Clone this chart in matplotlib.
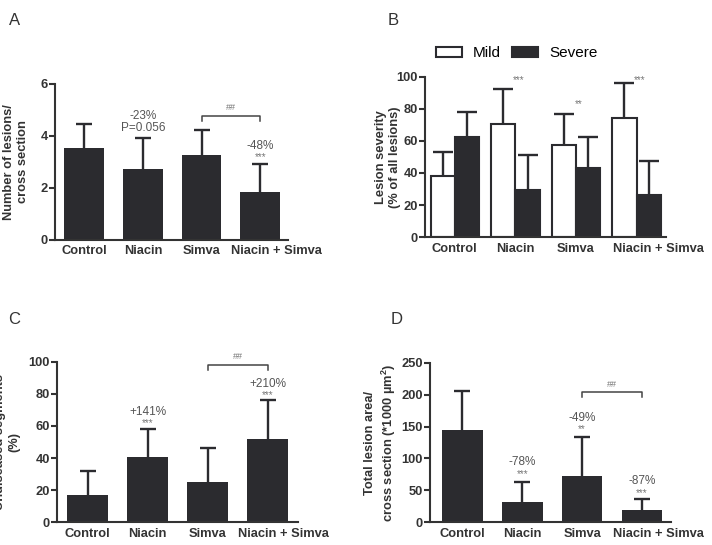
"""Four-panel bar figure: lesion number, severity, undiseased segments, lesion area."""

import matplotlib.pyplot as plt
import matplotlib.transforms as mtransforms
import numpy as np

plt.rcParams["font.family"] = ["Liberation Sans", "DejaVu Sans"]

groups = ["Control", "Niacin", "Simva", "Niacin + Simva"]

# panel A
lesions_mean = [3.55, 2.72, 3.25, 1.85]
lesions_sd = [0.90, 1.18, 0.97, 1.05]

# panel B
mild_mean = [38, 70.5, 57.5, 74.5]
mild_sd = [15, 22, 19.5, 21.5]
severe_mean = [62.5, 29.5, 43, 26]
severe_sd = [15.5, 22, 19.5, 21.5]
severity_stars = ["", "***", "**", "***"]

# panel C
undiseased_mean = [17, 40.5, 25, 52]
undiseased_sd = [15, 17.5, 21.5, 24]

# panel D
area_mean = [144, 32, 73, 19]
area_sd = [62, 31, 60, 17]

BAR = "#2b2b2f"
NOTE = "#555555"
STAR = "#777777"
TXT = "#333333"

fig = plt.figure(figsize=(7.12, 5.45), dpi=100)


def style(ax, ylim, yticks, last_shift):
    for s in ("top", "right"):
        ax.spines[s].set_visible(False)
    for s in ("left", "bottom"):
        ax.spines[s].set_linewidth(1.5)
        ax.spines[s].set_color(TXT)
    ax.set_ylim(*ylim)
    ax.set_yticks(yticks)
    ax.set_xticks(range(len(groups)))
    ax.set_xticklabels(groups, fontsize=9.3, fontweight="bold", color=TXT)
    for lab in ax.get_yticklabels():
        lab.set_fontweight("bold")
        lab.set_fontsize(9.3)
        lab.set_color(TXT)
    ax.tick_params(axis="y", direction="out", length=4, width=1.5, color=TXT, pad=1)
    ax.tick_params(axis="x", length=0, pad=4)
    # the last label sits a bit to the right of its bar in the original
    last = ax.get_xticklabels()[-1]
    last.set_transform(last.get_transform()
                       + mtransforms.ScaledTranslation(last_shift, 0, fig.dpi_scale_trans))


def upper_err(ax, x, mean, sd, cap=12):
    mean = np.asarray(mean, dtype=float)
    sd = np.asarray(sd, dtype=float)
    ax.vlines(x, mean, mean + sd, color=BAR, lw=1.7, zorder=1)
    ax.plot(x, mean + sd, ls="none", marker="_", markersize=cap, mew=1.7, color=BAR, zorder=1)


def single_bars(ax, mean, sd):
    x = np.arange(len(mean))
    ax.bar(x, mean, width=0.68, color=BAR, zorder=2)
    upper_err(ax, x, mean, sd)


def bracket(ax, x0, x1, y, h, label):
    ax.plot([x0, x0, x1, x1], [y - h, y, y, y - h], color="#444444", lw=1.1, clip_on=False)
    ax.text((x0 + x1) / 2, y + h * 0.8, label, ha="center", va="bottom",
            fontsize=6.5, color=STAR)


def note(ax, x, y, text, size=8.5, color=NOTE):
    ax.text(x, y, text, ha="center", va="center", fontsize=size, color=color)


def stars(ax, x, y, text):
    note(ax, x, y, text, size=7, color=STAR)


def ylab(ax, text, xpos):
    ax.set_ylabel(text, fontsize=9.3, fontweight="bold", color=TXT, linespacing=1.25)
    ax.yaxis.set_label_coords(xpos, 0.5)


# ---- A
axA = fig.add_axes([0.077, 0.560, 0.328, 0.286])
single_bars(axA, lesions_mean, lesions_sd)
style(axA, (0, 6), [0, 2, 4, 6], 0.16)
axA.set_xlim(-0.5, 3.48)
ylab(axA, "Number of lesions/\ncross section", -0.11)
note(axA, 1, 4.77, "-23%")
note(axA, 1, 4.30, "P=0.056")
note(axA, 3, 3.60, "-48%")
stars(axA, 3, 3.18, "***")
bracket(axA, 2, 3, 4.77, 0.18, "##")
fig.text(0.012, 0.955, "A", fontsize=12, color=TXT)

# ---- B
axB = fig.add_axes([0.597, 0.565, 0.338, 0.294])
x = np.arange(len(groups))
w = 0.40
axB.bar(x - w / 2, mild_mean, width=w, color="white", edgecolor=BAR, linewidth=1.5,
        label="Mild", zorder=2)
axB.bar(x + w / 2, severe_mean, width=w, color=BAR, edgecolor=BAR, linewidth=1.5,
        label="Severe", zorder=2)
upper_err(axB, x - w / 2, mild_mean, mild_sd, cap=14)
upper_err(axB, x + w / 2, severe_mean, severe_sd, cap=14)
style(axB, (0, 100), [0, 20, 40, 60, 80, 100], 0.22)
axB.set_xlim(-0.49, 3.48)
ylab(axB, "Lesion severity\n(% of all lesions)", -0.10)
star_y = [0, 98, 83, 98]
for i, s in enumerate(severity_stars):
    if s:
        stars(axB, i + 0.05, star_y[i], s)
axB.legend(loc="lower left", bbox_to_anchor=(0.02, 1.064), ncol=2, frameon=False,
           fontsize=11, handlelength=1.7, handleheight=0.7, handletextpad=0.72,
           columnspacing=0.72, borderaxespad=0)
fig.text(0.545, 0.955, "B", fontsize=12, color=TXT)

# ---- C
axC = fig.add_axes([0.080, 0.042, 0.338, 0.294])
single_bars(axC, undiseased_mean, undiseased_sd)
style(axC, (0, 100), [0, 20, 40, 60, 80, 100], 0.16)
axC.set_xlim(-0.51, 3.5)
ylab(axC, "Undiseased segments\n(%)", -0.153)
note(axC, 1, 68.5, "+141%")
stars(axC, 1, 61.5, "***")
note(axC, 3, 86.5, "+210%")
stars(axC, 3, 79.5, "***")
bracket(axC, 2, 3, 98, 3, "##")
fig.text(0.012, 0.405, "C", fontsize=12, color=TXT)

# ---- D
axD = fig.add_axes([0.604, 0.042, 0.338, 0.292])
single_bars(axD, area_mean, area_sd)
style(axD, (0, 250), [0, 50, 100, 150, 200, 250], 0.16)
axD.set_xlim(-0.54, 3.48)
ylab(axD, "Total lesion area/\ncross section (*1000 µm$^\\mathregular{2}$)", -0.135)
note(axD, 1, 94, "-78%")
stars(axD, 1, 76, "***")
note(axD, 2, 164, "-49%")
stars(axD, 2, 146, "**")
note(axD, 3, 64, "-87%")
stars(axD, 3, 46, "***")
bracket(axD, 2, 3, 204, 7, "##")
fig.text(0.548, 0.405, "D", fontsize=12, color=TXT)

fig.savefig("out.png", dpi=100)
plt.close(fig)
